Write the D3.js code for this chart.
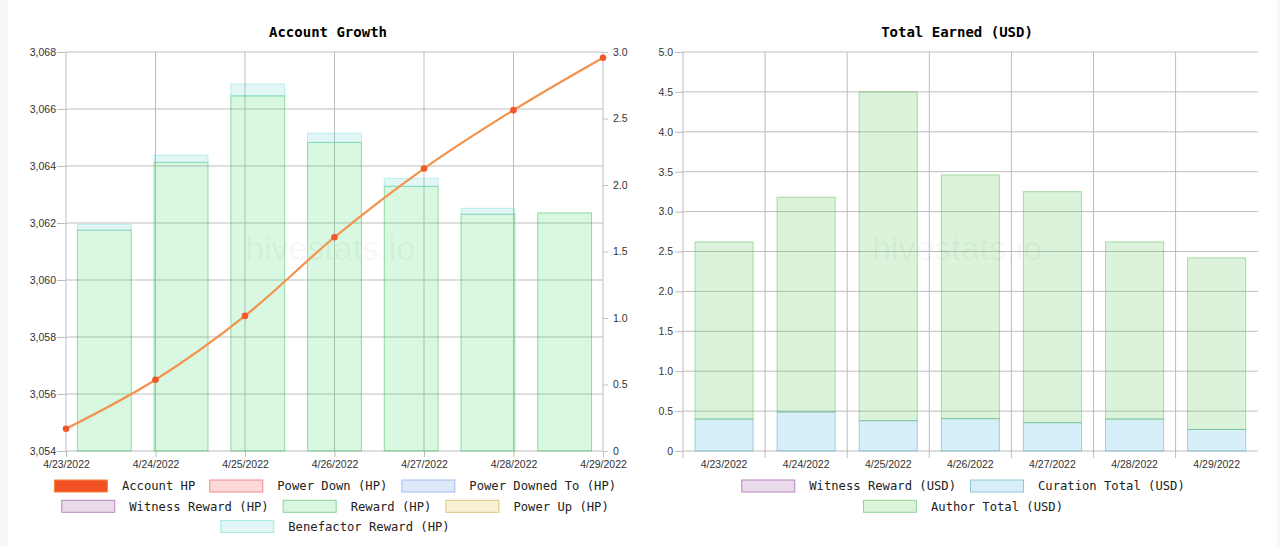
<!DOCTYPE html>
<html>
<head>
<meta charset="utf-8">
<script src="https://cdn.jsdelivr.net/npm/d3@7/dist/d3.min.js"></script>
<style>
  html, body { margin: 0; padding: 0; background: #f6f7f9; }
  svg { display: block; }
</style>
</head>
<body>
<svg id="c" width="1280" height="546"></svg>
<script>
// ---------- DATA ----------
const dates = ["4/23/2022","4/24/2022","4/25/2022","4/26/2022","4/27/2022","4/28/2022","4/29/2022"];

// Account Growth (left axis, HP)
const accountHP = [3054.78, 3056.50, 3058.74, 3061.50, 3063.91, 3065.96, 3067.80];
// Account Growth bars (right axis, HP)
const powerDownHP     = [0, 0, 0, 0, 0, 0, 0];
const powerDownedToHP = [0, 0, 0, 0, 0, 0, 0];
const witnessRewardHP = [0, 0, 0, 0, 0, 0, 0];
const rewardHP        = [1.66, 2.17, 2.67, 2.32, 1.99, 1.78, 1.79];
const powerUpHP       = [0, 0, 0, 0, 0, 0, 0];
const benefactorHP    = [0.045, 0.055, 0.09, 0.07, 0.06, 0.045, 0];

const leftAxisTicks  = [3054, 3056, 3058, 3060, 3062, 3064, 3066, 3068];
const rightAxisTicks = [0, 0.5, 1.0, 1.5, 2.0, 2.5, 3.0];

// Total Earned (USD)
const witnessRewardUSD = [0, 0, 0, 0, 0, 0, 0];
const curationUSD      = [0.40, 0.49, 0.38, 0.405, 0.355, 0.40, 0.27];
const authorUSD        = [2.22, 2.69, 4.12, 3.055, 2.895, 2.22, 2.15];
const usdTicks = [0, 0.5, 1.0, 1.5, 2.0, 2.5, 3.0, 3.5, 4.0, 4.5, 5.0];

const leftTitle = "Account Growth";
const rightTitle = "Total Earned (USD)";
const watermark = "hivestats.io";

const leftLegend = [
  [{label:"Account HP", fill:"#f15125", stroke:"#f5883c"},
   {label:"Power Down (HP)", fill:"#fdd9da", stroke:"#ee8a8d"},
   {label:"Power Downed To (HP)", fill:"#dde8fb", stroke:"#a2bdef"}],
  [{label:"Witness Reward (HP)", fill:"#e9dbea", stroke:"#b984c0"},
   {label:"Reward (HP)", fill:"#d8f8e1", stroke:"#86d497"},
   {label:"Power Up (HP)", fill:"#f8f1d6", stroke:"#dac67a"}],
  [{label:"Benefactor Reward (HP)", fill:"#e2f6f5", stroke:"#a4eae4"}]
];
const rightLegend = [
  [{label:"Witness Reward (USD)", fill:"#e9dbea", stroke:"#b984c0"},
   {label:"Curation Total (USD)", fill:"#d7eff9", stroke:"#92c9d3"}],
  [{label:"Author Total (USD)", fill:"#daf3d9", stroke:"#94d394"}]
];

// ---------- DRAW ----------
const svg = d3.select("#c");
svg.append("rect").attr("x", 8).attr("y", 0).attr("width", 1269).attr("height", 546).attr("fill", "#fff");

const tickFont = "'Liberation Sans', Arial, sans-serif";
const monoFont = "'DejaVu Sans Mono', 'Liberation Mono', monospace";
const gridColor = "#bdbdbd";

function styleAxis(g) {
  g.select(".domain").remove();
  g.selectAll(".tick line").attr("stroke", gridColor);
  g.selectAll(".tick text").attr("font-family", tickFont).attr("font-size", 10.5).attr("fill", "#333");
}

function legend(rows, cx, y0) {
  rows.forEach((row, ri) => {
    const g = svg.append("g");
    let x = 0;
    row.forEach((it, i) => {
      g.append("rect").attr("x", x + 0.5).attr("y", -6).attr("width", 53).attr("height", 12)
        .attr("fill", it.fill).attr("stroke", it.stroke).attr("stroke-width", 1);
      const t = g.append("text").attr("x", x + 68).attr("y", 0).attr("dy", "0.35em")
        .attr("font-family", monoFont).attr("font-size", 12.2).attr("fill", "#222").text(it.label);
      x += 68 + t.node().getComputedTextLength();
      if (i < row.length - 1) x += 14;
    });
    g.attr("transform", `translate(${cx - x / 2},${y0 + ri * 20.3})`);
  });
}

const fmt1 = d => d === 0 ? "0" : d3.format(".1f")(d);

// ===== LEFT CHART =====
(function() {
  const L = 66, R = 603, T = 52, B = 451;
  const xp = d3.scalePoint().domain(dates).range([L, R]);
  const xb = d3.scaleBand().domain(dates).range([L, R]).paddingInner(0.285).paddingOuter(0.1425);
  const yL = d3.scaleLinear().domain([3054, 3068]).range([B, T]);
  const yR = d3.scaleLinear().domain([0, 3]).range([B, T]);

  // title
  svg.append("text").attr("x", 328).attr("y", 37).attr("text-anchor", "middle")
    .attr("font-family", monoFont).attr("font-weight", "bold").attr("font-size", 14).attr("fill", "#000").text(leftTitle);

  // grid
  svg.append("g").selectAll("line").data(leftAxisTicks).join("line")
    .attr("x1", L).attr("x2", R).attr("y1", d => yL(d)).attr("y2", d => yL(d))
    .attr("stroke", gridColor).attr("stroke-width", 1);
  svg.append("g").selectAll("line").data(dates).join("line")
    .attr("x1", d => xp(d)).attr("x2", d => xp(d)).attr("y1", T).attr("y2", B)
    .attr("stroke", gridColor).attr("stroke-width", 1);

  // axes
  svg.append("g").attr("transform", `translate(${L},0)`)
    .call(d3.axisLeft(yL).tickValues(leftAxisTicks).tickFormat(d3.format(",")).tickSize(9).tickPadding(1)).call(styleAxis);
  svg.append("g").attr("transform", `translate(${R},0)`)
    .call(d3.axisRight(yR).tickValues(rightAxisTicks).tickFormat(fmt1).tickSize(5).tickPadding(5)).call(styleAxis);
  svg.append("g").attr("transform", `translate(0,${B})`)
    .call(d3.axisBottom(xp).tickSize(6).tickPadding(4)).call(styleAxis);

  // stacked bars (right axis)
  const series = [
    {vals: powerDownHP, fill: "rgba(240,80,85,0.2)", stroke: "rgba(235,110,115,0.8)"},
    {vals: powerDownedToHP, fill: "rgba(100,150,240,0.2)", stroke: "rgba(120,160,235,0.8)"},
    {vals: witnessRewardHP, fill: "rgba(150,90,160,0.2)", stroke: "rgba(170,110,180,0.8)"},
    {vals: rewardHP, fill: "rgba(60,220,110,0.2)", stroke: "rgba(70,190,100,0.55)"},
    {vals: powerUpHP, fill: "rgba(220,190,80,0.2)", stroke: "rgba(210,185,90,0.8)"},
    {vals: benefactorHP, fill: "rgba(110,210,205,0.2)", stroke: "rgba(120,225,220,0.45)"}
  ];
  const base = dates.map(() => 0);
  series.forEach(s => {
    svg.append("g").selectAll("rect").data(dates).join("rect")
      .filter((d, i) => s.vals[i] > 0)
      .attr("x", d => xb(d) + 0.5)
      .attr("width", xb.bandwidth() - 1)
      .attr("y", d => { const i = dates.indexOf(d); return yR(base[i] + s.vals[i]); })
      .attr("height", d => { const i = dates.indexOf(d); return yR(base[i]) - yR(base[i] + s.vals[i]); })
      .attr("fill", s.fill).attr("stroke", s.stroke).attr("stroke-width", 1);
    s.vals.forEach((v, i) => base[i] += v);
  });

  // watermark
  svg.append("text").attr("x", 330).attr("y", 260).attr("text-anchor", "middle")
    .attr("font-family", tickFont).attr("font-size", 34).attr("fill", "rgba(0,0,0,0.045)").text(watermark);

  // line
  const line = d3.line().x((d, i) => xp(dates[i])).y(d => yL(d)).curve(d3.curveMonotoneX);
  svg.append("path").datum(accountHP).attr("d", line).attr("fill", "none")
    .attr("stroke", "#f3924a").attr("stroke-width", 2.2);
  svg.append("g").selectAll("circle").data(accountHP).join("circle")
    .attr("cx", (d, i) => xp(dates[i])).attr("cy", d => yL(d)).attr("r", 3.3)
    .attr("fill", "#f2582a");

  legend(leftLegend, 335, 486);
})();

// ===== RIGHT CHART =====
(function() {
  const L = 683, R = 1257.7, T = 52, B = 451;
  const xb = d3.scaleBand().domain(dates).range([L, R]).paddingInner(0.28).paddingOuter(0.14);
  const y = d3.scaleLinear().domain([0, 5]).range([B, T]);
  const bounds = dates.map((d, i) => L + i * xb.step());

  svg.append("text").attr("x", 957).attr("y", 37).attr("text-anchor", "middle")
    .attr("font-family", monoFont).attr("font-weight", "bold").attr("font-size", 14).attr("fill", "#000").text(rightTitle);

  svg.append("g").selectAll("line").data(usdTicks).join("line")
    .attr("x1", L).attr("x2", R).attr("y1", d => y(d)).attr("y2", d => y(d))
    .attr("stroke", gridColor).attr("stroke-width", 1);
  svg.append("g").selectAll("line").data(bounds).join("line")
    .attr("x1", d => d).attr("x2", d => d).attr("y1", T).attr("y2", B + 7)
    .attr("stroke", gridColor).attr("stroke-width", 1);

  svg.append("g").attr("transform", `translate(${L},0)`)
    .call(d3.axisLeft(y).tickValues(usdTicks).tickFormat(fmt1).tickSize(8).tickPadding(2)).call(styleAxis);
  svg.append("g").attr("transform", `translate(0,${B})`)
    .call(d3.axisBottom(xb).tickSize(0).tickPadding(10)).call(styleAxis);

  const series = [
    {vals: witnessRewardUSD, fill: "rgba(150,90,160,0.2)", stroke: "rgba(170,110,180,0.8)"},
    {vals: curationUSD, fill: "rgba(95,191,231,0.25)", stroke: "rgba(110,180,195,0.6)"},
    {vals: authorUSD, fill: "rgba(107,207,107,0.25)", stroke: "rgba(100,190,100,0.5)"}
  ];
  const base = dates.map(() => 0);
  series.forEach(s => {
    svg.append("g").selectAll("rect").data(dates).join("rect")
      .filter((d, i) => s.vals[i] > 0)
      .attr("x", d => xb(d) + 0.5)
      .attr("width", xb.bandwidth() - 1)
      .attr("y", d => { const i = dates.indexOf(d); return y(base[i] + s.vals[i]); })
      .attr("height", d => { const i = dates.indexOf(d); return y(base[i]) - y(base[i] + s.vals[i]); })
      .attr("fill", s.fill).attr("stroke", s.stroke).attr("stroke-width", 1);
    s.vals.forEach((v, i) => base[i] += v);
  });

  svg.append("text").attr("x", 957).attr("y", 260).attr("text-anchor", "middle")
    .attr("font-family", tickFont).attr("font-size", 34).attr("fill", "rgba(0,0,0,0.045)").text(watermark);

  legend(rightLegend, 963, 486);
})();
</script>
</body>
</html>
